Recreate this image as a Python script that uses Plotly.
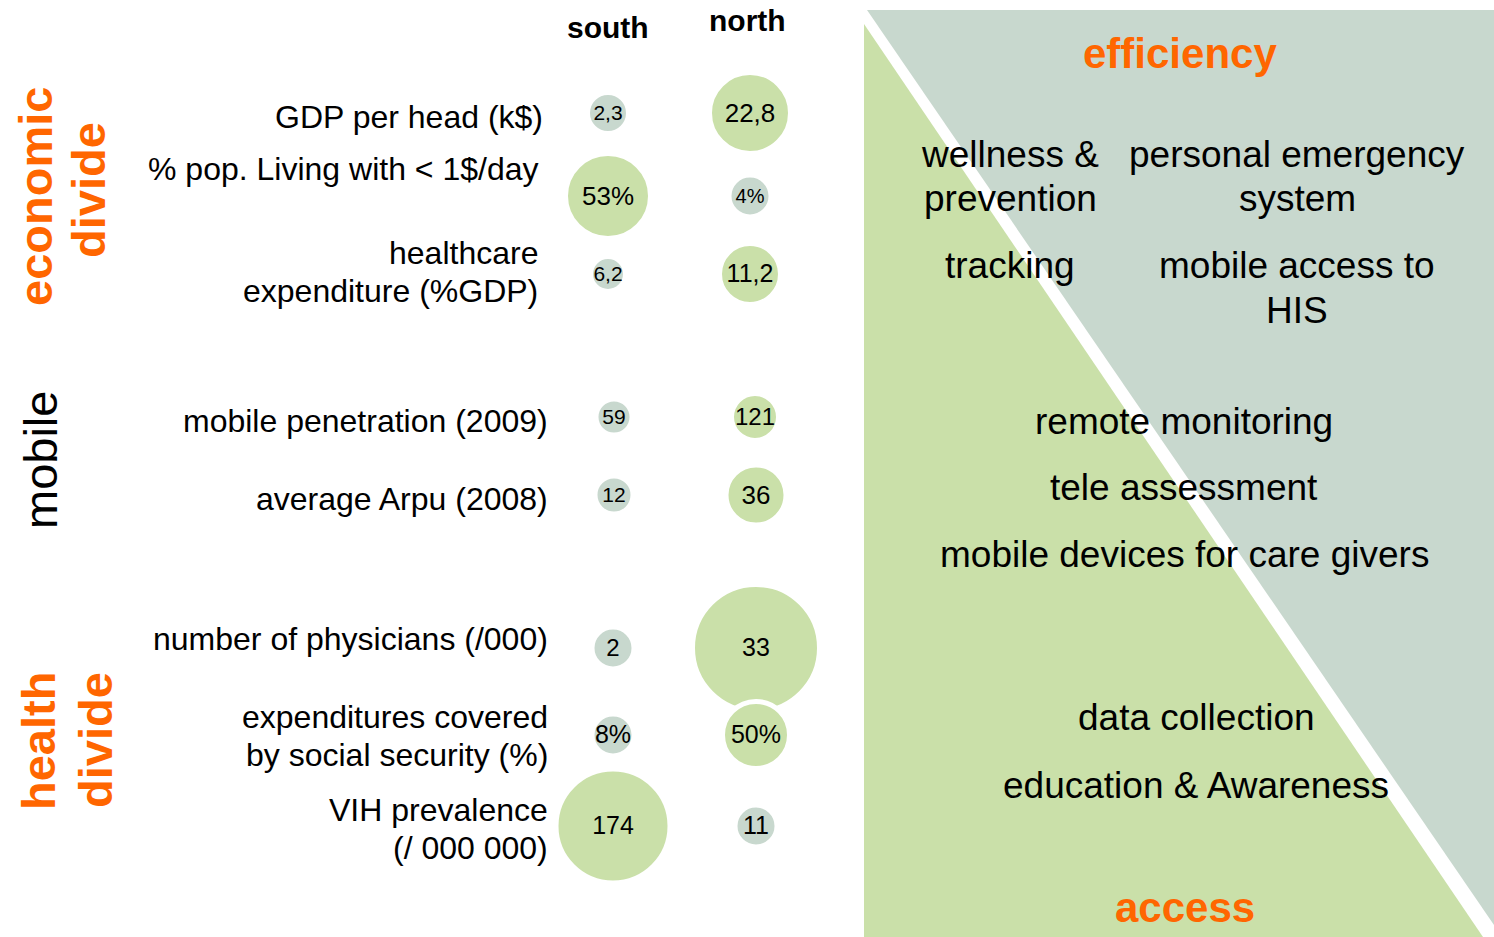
import plotly.graph_objects as go

# ---------------- data ----------------
COLUMNS = ["south", "north"]
ROW_LABELS = [
    "GDP per head (k$)",
    "% pop. Living with < 1$/day",
    "healthcare<br>expenditure (%GDP)",
    "mobile penetration (2009)",
    "average Arpu (2008)",
    "number of physicians (/000)",
    "expenditures covered<br>by social security (%)",
    "VIH prevalence<br>(/ 000 000)",
]
SOUTH_VALUES = [2.3, 53, 6.2, 59, 12, 2, 8, 174]
NORTH_VALUES = [22.8, 4, 11.2, 121, 36, 33, 50, 11]
SOUTH_TEXT = ["2,3", "53%", "6,2", "59", "12", "2", "8%", "174"]
NORTH_TEXT = ["22,8", "4%", "11,2", "121", "36", "33", "50%", "11"]

EFFICIENCY_ITEMS = ["wellness &<br>prevention", "personal emergency<br>system",
                    "tracking", "mobile access to<br>HIS"]
MIDDLE_ITEMS = ["remote monitoring", "tele assessment", "mobile devices for care givers"]
ACCESS_ITEMS = ["data collection", "education & Awareness"]

# ---------------- layout / style ----------------
W, H = 1494, 937
FONT = "Liberation Sans, Arial, sans-serif"
GREEN = "#CAE0A9"
GREY = "#C8D8CE"
ORANGE = "#FF6600"

ROW_Y = [113, 196, 274, 417, 495, 648, 735, 826]
SOUTH_X = [608, 608, 608, 614, 614, 613, 613, 613]
NORTH_X = [750, 750, 750, 755, 756, 756, 756, 756]
LABEL_RIGHT = [545, 540, 540, 550, 550, 550, 550, 550]
LABEL_Y = [117, 169, 272, 421, 499, 639, 736, 829]
LABEL_PITCH = 38
SOUTH_DIAM = [36, 80, 30, 31, 33, 37, 37, 109]
NORTH_DIAM = [76, 37, 56, 42, 55, 122, 62, 37]
SOUTH_FONT = [21, 26, 21, 21, 21, 24, 25, 25]
NORTH_FONT = [26, 20, 25, 24, 26, 25, 25, 25]
TEXT_DY = 2
RING = 5

south_colors = [GREEN if s > n else GREY for s, n in zip(SOUTH_VALUES, NORTH_VALUES)]
north_colors = [GREEN if n > s else GREY for s, n in zip(SOUTH_VALUES, NORTH_VALUES)]

fig = go.Figure()

for xs, vals, texts, diam, fsz, cols, name in [
    (SOUTH_X, SOUTH_VALUES, SOUTH_TEXT, SOUTH_DIAM, SOUTH_FONT, south_colors, COLUMNS[0]),
    (NORTH_X, NORTH_VALUES, NORTH_TEXT, NORTH_DIAM, NORTH_FONT, north_colors, COLUMNS[1]),
]:
    fig.add_trace(go.Scatter(
        x=xs, y=ROW_Y, mode="markers", name=name,
        customdata=vals,
        marker=dict(size=[d + RING for d in diam], color=cols,
                    line=dict(color="white", width=RING), opacity=1),
        hovertemplate="%{customdata}<extra>" + name + "</extra>",
        showlegend=False,
    ))
    fig.add_trace(go.Scatter(
        x=xs, y=[y + TEXT_DY for y in ROW_Y], mode="text", name=name,
        text=texts, textposition="middle center",
        textfont=dict(family=FONT, size=fsz, color="black"),
        hoverinfo="skip", showlegend=False,
    ))

ann = []


def add_block(text, x, yc, pitch, xanchor="center", **font):
    lines = text.split("<br>")
    n = len(lines)
    for i, ln in enumerate(lines):
        ann.append(dict(x=x, y=yc + (i - (n - 1) / 2) * pitch, text=ln,
                        xanchor=xanchor, font=dict(font)))


# column headers
ann.append(dict(x=608, y=27, text="<b>" + COLUMNS[0] + "</b>", font=dict(size=30)))
ann.append(dict(x=747, y=20, text="<b>" + COLUMNS[1] + "</b>", font=dict(size=30)))

# row labels
for lab, xr, yy in zip(ROW_LABELS, LABEL_RIGHT, LABEL_Y):
    add_block(lab, xr, yy, LABEL_PITCH, xanchor="right", size=32)

# group labels (vertical)
ann.append(dict(x=35, y=197, text="<b>economic</b>", textangle=-90,
                font=dict(size=47, color=ORANGE)))
ann.append(dict(x=88, y=190, text="<b>divide</b>", textangle=-90,
                font=dict(size=47, color=ORANGE)))
ann.append(dict(x=40, y=460, text="mobile", textangle=-90,
                font=dict(size=47, color="black")))
ann.append(dict(x=38, y=741, text="<b>health</b>", textangle=-90,
                font=dict(size=47, color=ORANGE)))
ann.append(dict(x=95, y=740, text="<b>divide</b>", textangle=-90,
                font=dict(size=47, color=ORANGE)))

# right panel texts
ann.append(dict(x=1180, y=53, text="<b>efficiency</b>", font=dict(size=42, color=ORANGE)))
ann.append(dict(x=1185, y=907, text="<b>access</b>", font=dict(size=42, color=ORANGE)))
for txt, xx, yy, p in zip(EFFICIENCY_ITEMS, [1010, 1297, 1010, 1297],
                          [176, 176, 265, 287.5], [44, 44, 44, 45]):
    add_block(txt, xx, yy, p, size=37)
for txt, yy in zip(MIDDLE_ITEMS, [421, 487, 554]):
    add_block(txt, 1184, yy, 44, size=37)
for txt, yy in zip(ACCESS_ITEMS, [717, 785]):
    add_block(txt, 1196, yy, 44, size=37)

for a in ann:
    a.setdefault("xref", "x")
    a.setdefault("yref", "y")
    a.setdefault("showarrow", False)
    a.setdefault("xanchor", "center")
    a.setdefault("yanchor", "middle")
    a["font"].setdefault("family", FONT)
    a["font"].setdefault("color", "black")

shapes = [
    dict(type="path", path="M 867,10 L 1494,10 L 1494,925 Z", fillcolor=GREY,
         line=dict(width=0), layer="below", xref="x", yref="y"),
    dict(type="path", path="M 864,24 L 864,937 L 1483,937 Z", fillcolor=GREEN,
         line=dict(width=0), layer="below", xref="x", yref="y"),
]

fig.update_layout(
    width=W, height=H, margin=dict(l=0, r=0, t=0, b=0),
    paper_bgcolor="white", plot_bgcolor="white",
    xaxis=dict(range=[0, W], visible=False, fixedrange=True),
    yaxis=dict(range=[H, 0], visible=False, fixedrange=True),
    annotations=ann, shapes=shapes,
    font=dict(family=FONT),
)

fig.write_html("out.html", config={"displayModeBar": False},
               post_script="document.body.style.margin='0';document.body.style.overflow='hidden';")
